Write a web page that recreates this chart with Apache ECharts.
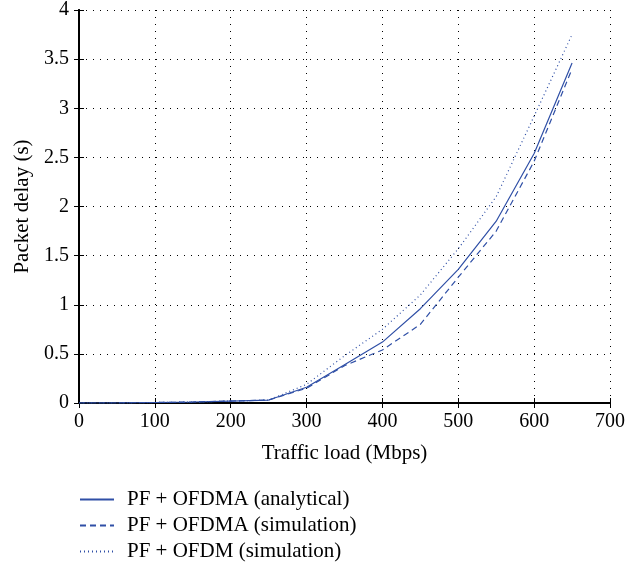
<!DOCTYPE html>
<html><head><meta charset="utf-8">
<script src="https://cdn.jsdelivr.net/npm/echarts@6/dist/echarts.min.js"></script>
<style>html,body{margin:0;padding:0;background:#fff}#c{width:637px;height:567px}</style>
</head><body><div id="c"></div>
<script>
var loads = [0,50,100,150,200,250,300,350,400,450,500,550,600,650];
var ofdmaAnalytical = [0,0,0.005,0.01,0.02,0.03,0.16,0.39,0.62,0.96,1.36,1.85,2.54,3.46];
var ofdmaSimulation = [0,0,0.005,0.01,0.02,0.03,0.15,0.38,0.54,0.80,1.28,1.75,2.46,3.40];
var ofdmSimulation  = [0,0,0.005,0.01,0.02,0.03,0.19,0.48,0.75,1.10,1.57,2.10,2.92,3.75];
var xTicks = [0,100,200,300,400,500,600,700];
var yTicks = [0,0.5,1,1.5,2,2.5,3,3.5,4];
var names = ['PF + OFDMA (analytical)','PF + OFDMA (simulation)','PF + OFDM (simulation)'];

var font = 'Liberation Serif';
var blue = '#2f4fa6';
function pairs(v){return loads.map(function(x,i){return [x,v[i]];});}
var chart = echarts.init(document.getElementById('c'));
var axisLine = {show:true,lineStyle:{color:'#000',width:2}};
chart.setOption({
  animation:false,
  grid:{left:79,right:27,top:10,bottom:164,containLabel:false,outerBoundsMode:'none'},
  legend:{orient:'vertical',left:79,top:489,padding:0,height:78,itemWidth:34,itemHeight:10,itemGap:5,
    itemStyle:{opacity:0},
    textStyle:{fontFamily:font,fontSize:21,color:'#000',padding:[0,0,0,8]},
    data:names.map(function(n){return {name:n};})},
  xAxis:[{type:'value',min:0,max:700,interval:100,
    name:'Traffic load (Mbps)',nameLocation:'middle',nameGap:40,
    nameTextStyle:{fontFamily:font,fontSize:21,color:'#000'},
    axisLine:axisLine,axisTick:{show:true,inside:true,length:5,lineStyle:{color:'#000'}},
    axisLabel:{fontFamily:font,fontSize:20,color:'#000',margin:9},
    splitLine:{show:true,lineStyle:{color:'#000',type:[1,6],width:1}}},
   {type:'value',position:'top',min:0,max:700,interval:100,
    axisLine:axisLine,axisTick:{show:true,inside:true,length:5,lineStyle:{color:'#000'}},
    axisLabel:{show:false},splitLine:{show:false}}],
  yAxis:[{type:'value',min:0,max:4,interval:0.5,
    name:'Packet delay (s)',nameLocation:'middle',nameGap:46,nameRotate:90,
    nameTextStyle:{fontFamily:font,fontSize:21,color:'#000'},
    axisLine:axisLine,axisTick:{show:true,inside:true,length:5,lineStyle:{color:'#000'}},
    axisLabel:{fontFamily:font,fontSize:20,color:'#000',margin:10},
    splitLine:{show:true,lineStyle:{color:'#000',type:[1,6],width:1}}},
   {type:'value',position:'right',min:0,max:4,interval:0.5,
    axisLine:axisLine,axisTick:{show:true,inside:true,length:5,lineStyle:{color:'#000'}},
    axisLabel:{show:false},splitLine:{show:false}}],
  series:[
    {name:names[0],type:'line',symbol:'none',data:pairs(ofdmaAnalytical),
     lineStyle:{color:blue,width:1.2,type:'solid'},itemStyle:{color:blue}},
    {name:names[1],type:'line',symbol:'none',data:pairs(ofdmaSimulation),
     lineStyle:{color:blue,width:1.2,type:[6,4]},itemStyle:{color:blue}},
    {name:names[2],type:'line',symbol:'none',data:pairs(ofdmSimulation),
     lineStyle:{color:blue,width:1.2,type:[1,3]},itemStyle:{color:blue}}
  ]
});
</script></body></html>
